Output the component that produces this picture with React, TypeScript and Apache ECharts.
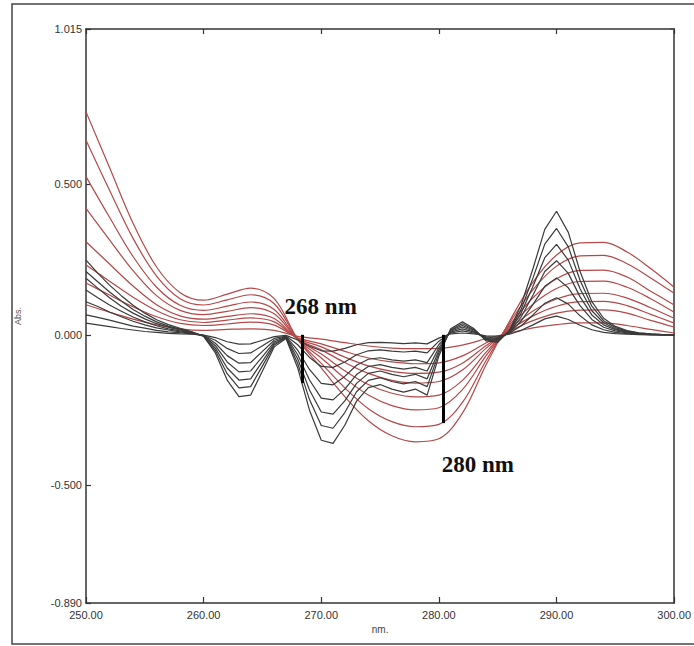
import React, { useEffect, useRef } from "react";
import * as echarts from "echarts";

// Wavelengths (nm)
const wlBlack = [250,251,252,253,254,255,256,257,258,259,260,261,262,263,264,265,266,267,268,269,270,271,272,273,274,275,276,277,278,279,280,281,282,283,284,285,286,287,288,289,290,291,292,293,294,295,296,297,298,299,300];
const wlRed = [250,252,254,256,258,260,262,264,266,268,270,272,274,276,278,280,282,284,286,288,290,292,294,296,298,300];

// Black spectra (1 nm steps)
const black1 = [0.248,0.205,0.165,0.13,0.098,0.072,0.05,0.034,0.022,0.01,-0.005,-0.06,-0.15,-0.205,-0.2,-0.12,-0.04,-0.012,-0.11,-0.25,-0.35,-0.36,-0.3,-0.22,-0.175,-0.165,-0.18,-0.19,-0.18,-0.2,-0.07,0.02,0.043,0.02,-0.02,-0.025,0.015,0.1,0.22,0.35,0.41,0.34,0.21,0.11,0.055,0.028,0.014,0.007,0.003,0.001,0];
const black2 = [0.21,0.176,0.142,0.112,0.084,0.062,0.043,0.029,0.019,0.009,-0.004,-0.052,-0.129,-0.176,-0.172,-0.103,-0.034,-0.01,-0.095,-0.215,-0.301,-0.31,-0.258,-0.189,-0.151,-0.142,-0.155,-0.163,-0.155,-0.172,-0.06,0.017,0.037,0.017,-0.017,-0.022,0.013,0.086,0.189,0.301,0.353,0.292,0.181,0.095,0.047,0.024,0.012,0.006,0.003,0.001,0];
const black3 = [0.188,0.155,0.123,0.095,0.072,0.053,0.037,0.025,0.016,0.007,-0.004,-0.044,-0.11,-0.15,-0.146,-0.088,-0.029,-0.009,-0.08,-0.183,-0.256,-0.263,-0.219,-0.161,-0.128,-0.12,-0.131,-0.139,-0.131,-0.146,-0.051,0.015,0.031,0.015,-0.015,-0.018,0.011,0.073,0.161,0.256,0.3,0.248,0.153,0.08,0.04,0.02,0.01,0.005,0.002,0.001,0];
const black4 = [0.149,0.123,0.099,0.078,0.059,0.043,0.03,0.02,0.013,0.006,-0.003,-0.036,-0.09,-0.123,-0.12,-0.072,-0.024,-0.007,-0.066,-0.15,-0.21,-0.216,-0.18,-0.132,-0.105,-0.099,-0.108,-0.114,-0.108,-0.12,-0.042,0.012,0.026,0.012,-0.012,-0.015,0.009,0.06,0.132,0.21,0.246,0.204,0.126,0.066,0.033,0.017,0.008,0.004,0.002,0.001,0];
const black5 = [0.11,0.094,0.076,0.06,0.045,0.033,0.023,0.016,0.01,0.005,-0.002,-0.028,-0.069,-0.094,-0.092,-0.055,-0.018,-0.006,-0.051,-0.115,-0.161,-0.166,-0.138,-0.101,-0.081,-0.076,-0.083,-0.087,-0.083,-0.092,-0.032,0.009,0.02,0.009,-0.009,-0.012,0.007,0.046,0.101,0.161,0.189,0.156,0.097,0.051,0.025,0.013,0.006,0.003,0.001,0,0];
const black6 = [0.066,0.058,0.049,0.039,0.029,0.022,0.015,0.01,0.007,0.003,-0.002,-0.018,-0.045,-0.062,-0.06,-0.036,-0.012,-0.004,-0.033,-0.075,-0.105,-0.108,-0.09,-0.066,-0.053,-0.05,-0.054,-0.057,-0.054,-0.06,-0.021,0.006,0.013,0.006,-0.006,-0.008,0.005,0.03,0.066,0.105,0.123,0.102,0.063,0.033,0.017,0.008,0.004,0.002,0.001,0,0];
const black7 = [0.039,0.033,0.027,0.021,0.016,0.011,0.008,0.005,0.003,0.002,-0.001,-0.009,-0.023,-0.031,-0.03,-0.018,-0.006,-0.002,-0.017,-0.038,-0.053,-0.054,-0.045,-0.033,-0.026,-0.025,-0.027,-0.029,-0.027,-0.03,-0.011,0.003,0.006,0.003,-0.003,-0.004,0.002,0.015,0.033,0.053,0.062,0.051,0.032,0.017,0.008,0.004,0.002,0.001,0,0,0];

// Red spectra (2 nm steps)
const red1 = [0.74,0.555,0.37,0.225,0.14,0.115,0.135,0.155,0.12,-0.015,-0.11,-0.205,-0.285,-0.335,-0.355,-0.345,-0.26,-0.1,0.045,0.175,0.265,0.305,0.307,0.275,0.22,0.158];
const red2 = [0.646,0.48,0.32,0.195,0.12,0.099,0.116,0.133,0.103,-0.015,-0.095,-0.176,-0.245,-0.288,-0.305,-0.297,-0.224,-0.086,0.039,0.15,0.228,0.262,0.264,0.236,0.189,0.138];
const red3 = [0.525,0.39,0.26,0.158,0.098,0.081,0.095,0.109,0.084,-0.015,-0.077,-0.144,-0.2,-0.235,-0.249,-0.242,-0.182,-0.07,0.032,0.123,0.186,0.214,0.215,0.192,0.145,0.099];
const red4 = [0.42,0.315,0.213,0.13,0.081,0.067,0.078,0.09,0.07,-0.015,-0.064,-0.119,-0.165,-0.194,-0.206,-0.2,-0.151,-0.058,0.026,0.102,0.154,0.177,0.178,0.158,0.12,0.075];
const red5 = [0.309,0.235,0.162,0.1,0.063,0.052,0.061,0.07,0.054,-0.015,-0.05,-0.092,-0.128,-0.151,-0.16,-0.155,-0.117,-0.045,0.02,0.079,0.119,0.137,0.138,0.122,0.09,0.055];
const red6 = [0.232,0.178,0.125,0.08,0.05,0.041,0.049,0.056,0.043,-0.012,-0.04,-0.074,-0.103,-0.121,-0.128,-0.124,-0.094,-0.036,0.016,0.063,0.095,0.11,0.111,0.097,0.068,0.039];
const red7 = [0.172,0.132,0.093,0.06,0.038,0.031,0.036,0.042,0.032,-0.01,-0.03,-0.055,-0.077,-0.09,-0.096,-0.093,-0.07,-0.027,0.012,0.047,0.072,0.082,0.083,0.072,0.048,0.026];
const red8 = [0.1,0.075,0.052,0.033,0.02,0.015,0.018,0.02,0.015,-0.005,-0.014,-0.026,-0.037,-0.044,-0.046,-0.045,-0.034,-0.013,0.006,0.023,0.034,0.04,0.04,0.031,0.018,0.006];

const blackSeries = [black1, black2, black3, black4, black5, black6, black7];
const redSeries = [red1, red2, red3, red4, red5, red6, red7, red8];

// Y tick values
const yTicks = [-0.89, -0.5, 0, 0.5, 1.015];

// Annotations: marker lines [wavelength, top, bottom], labels
const markerLines = [
  [268.35, 0, -0.16],
  [280.35, 0, -0.293],
];
const labels = [
  { text: "268 nm", x: 269.95, y: 0.095 },
  { text: "280 nm", x: 283.3, y: -0.432 },
];

export default function App() {
  const ref = useRef<HTMLDivElement>(null);
  useEffect(() => {
    if (!ref.current) return;
    const chart = echarts.init(ref.current, null, { renderer: "svg" });
    const axisLine = { show: true, onZero: false, lineStyle: { color: "#333", width: 1.5 } };
    const labelStyle = { color: "#333", fontSize: 11, fontFamily: "Liberation Sans, Arial, sans-serif" };
    const series: any[] = [];
    redSeries.forEach((arr, k) => {
      series.push({
        type: "line",
        name: "red" + k,
        data: wlRed.map((x, i) => [x, arr[i]]),
        smooth: 0.35,
        symbol: "none",
        lineStyle: { color: "#b54848", width: 1.2 },
        z: 2,
      });
    });
    blackSeries.forEach((arr, k) => {
      series.push({
        type: "line",
        name: "black" + k,
        data: wlBlack.map((x, i) => [x, arr[i]]),
        smooth: false,
        symbol: "none",
        lineStyle: { color: "#3a3a3a", width: 1.2 },
        z: 3,
      });
    });
    series.push({
      type: "line",
      name: "annot",
      data: [],
      symbol: "none",
      z: 5,
      markLine: {
        silent: true,
        symbol: "none",
        label: { show: false },
        lineStyle: { color: "#000", width: 3, type: "solid" },
        data: markerLines.map(([x, y0, y1]) => [{ coord: [x, y0] }, { coord: [x, y1] }]),
      },
      markPoint: {
        silent: true,
        symbol: "circle",
        symbolSize: 0,
        label: {
          show: true,
          position: "inside",
          formatter: (p: any) => p.name,
          color: "#111",
          fontSize: 23,
          fontWeight: "bold",
          fontFamily: "Liberation Serif, Times New Roman, serif",
        },
        data: labels.map((l) => ({ name: l.text, coord: [l.x, l.y] })),
      },
    });

    chart.setOption({
      animation: false,
      backgroundColor: "#fff",
      grid: { left: 86, right: 11, top: 29, bottom: 43 },
      graphic: [
        {
          type: "rect",
          shape: { x: 12, y: 4, width: 700, height: 640 },
          style: { fill: "none", stroke: "#444", lineWidth: 1.5 },
          silent: true,
        },
      ],
      xAxis: [
        {
          type: "value",
          min: 250,
          max: 300,
          interval: 10,
          position: "bottom",
          name: "nm.",
          nameLocation: "middle",
          nameGap: 21,
          nameTextStyle: { color: "#444", fontSize: 10, fontFamily: "Liberation Sans, Arial, sans-serif" },
          axisLine,
          axisTick: { show: true, inside: true, length: 6, lineStyle: { color: "#333", width: 1.2 } },
          axisLabel: { ...labelStyle, margin: 6, formatter: (v: number) => v.toFixed(2) },
          splitLine: { show: false },
        },
        {
          type: "value",
          min: 250,
          max: 300,
          interval: 10,
          position: "top",
          axisLine,
          axisTick: { show: true, inside: true, length: 5, lineStyle: { color: "#333", width: 1.2 } },
          axisLabel: { show: false },
          splitLine: { show: false },
        },
      ],
      yAxis: [
        {
          type: "value",
          min: -0.89,
          max: 1.015,
          position: "left",
          name: "Abs.",
          nameLocation: "middle",
          nameGap: 64,
          nameRotate: 90,
          nameTextStyle: { color: "#555", fontSize: 9, fontFamily: "Liberation Sans, Arial, sans-serif" },
          axisLine,
          axisTick: { show: true, inside: true, length: 5, customValues: yTicks, lineStyle: { color: "#333", width: 1.2 } },
          axisLabel: { ...labelStyle, margin: 4, customValues: yTicks, formatter: (v: number) => v.toFixed(3) },
          splitLine: { show: false },
        },
        {
          type: "value",
          min: -0.89,
          max: 1.015,
          position: "right",
          axisLine,
          axisTick: { show: true, inside: true, length: 4, customValues: [1.015], lineStyle: { color: "#555", width: 2 } },
          axisLabel: { show: false },
          splitLine: { show: false },
        },
      ],
      series,
    });
    return () => chart.dispose();
  }, []);
  return (
    <div
      ref={ref}
      style={{ position: "fixed", left: 0, top: 0, width: 694, height: 646, background: "#fff" }}
    />
  );
}
